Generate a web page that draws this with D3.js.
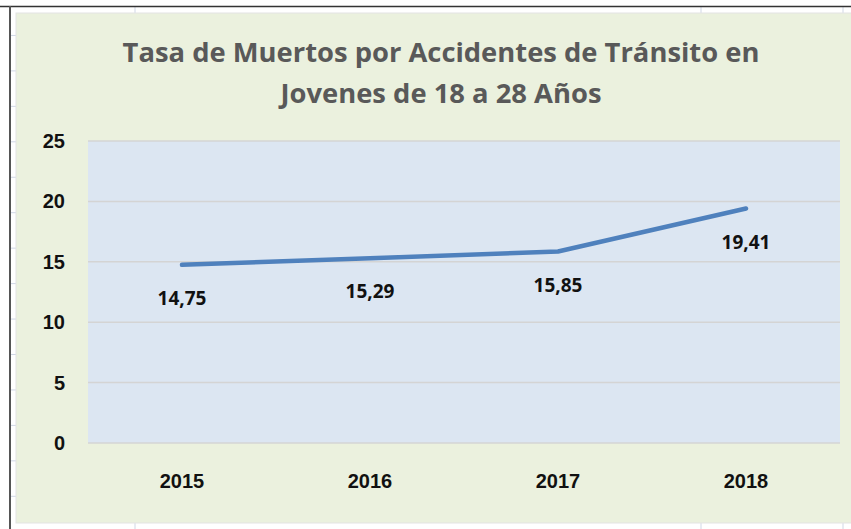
<!DOCTYPE html>
<html>
<head>
<meta charset="utf-8">
<style>
     body {
          margin: 0;
          background: #fff;
     }
     svg {
          display: block;
          font-family: "Open Sans", sans-serif;
     }
     .title {
          fill: #595959;
          font-weight: bold;
          text-anchor: middle;
     }
     .axis text {
          font-size: 20px;
          font-weight: bold;
          fill: #111;
     }
     .axis path, .axis line {
          display: none;
     }
     .grid line {
          stroke: #d4d4d4;
          stroke-width: 1.5;
     }
     .value-label {
          font-size: 19px;
          font-weight: bold;
          fill: #111;
          text-anchor: middle;
     }
</style>
</head>
<body>
<script src="https://cdn.jsdelivr.net/npm/d3@7"></script>
<script>

     var years = ["2015", "2016", "2017", "2018"];
     var rates = [14.75, 15.29, 15.85, 19.41];
     var yTicks = [0, 5, 10, 15, 20, 25];
     var titleLines = ["Tasa de Muertos por Accidentes de Tránsito en", "Jovenes de 18 a 28 Años"];

     var W = 851, H = 529;
     var plot = {left: 88, right: 840, top: 141, bottom: 443};

     var svg = d3.select("body").append("svg")
          .attr("width", W)
          .attr("height", H);

     // spreadsheet cells behind the chart
     var sheet = svg.append("g");
     sheet.selectAll("line.col")
          .data([135, 701, 843])
       .enter().append("line")
          .attr("x1", function(d) { return d; })
          .attr("x2", function(d) { return d; })
          .attr("y1", 6).attr("y2", H)
          .attr("stroke", "#d0d7e5");
     sheet.selectAll("line.row")
          .data(d3.range(1, 15))
       .enter().append("line")
          .attr("x1", 10).attr("x2", W)
          .attr("y1", function(d) { return d * 35.45; })
          .attr("y2", function(d) { return d * 35.45; })
          .attr("stroke", "#d0d7e5");
     sheet.append("line")
          .attr("x1", 0).attr("x2", W).attr("y1", 6.5).attr("y2", 6.5)
          .attr("stroke", "#333").attr("stroke-width", 1.5);
     sheet.append("line")
          .attr("x1", 10).attr("x2", 10).attr("y1", 6).attr("y2", H)
          .attr("stroke", "#555").attr("stroke-width", 2);

     // chart area
     svg.append("rect")
          .attr("x", 16).attr("y", 13)
          .attr("width", W).attr("height", 510)
          .attr("fill", "#ebf1de")
          .attr("stroke", "#e3e3e3");

     svg.append("rect")
          .attr("x", plot.left).attr("y", plot.top)
          .attr("width", plot.right - plot.left)
          .attr("height", plot.bottom - plot.top)
          .attr("fill", "#dce6f2");

     var x = d3.scaleBand()
          .domain(years)
          .range([plot.left, plot.right]);

     var y = d3.scaleLinear()
          .domain([0, 25])
          .range([plot.bottom, plot.top]);

     svg.append("g")
          .attr("class", "grid")
       .selectAll("line")
          .data(yTicks)
       .enter().append("line")
          .attr("x1", plot.left).attr("x2", plot.right)
          .attr("y1", function(d) { return y(d); })
          .attr("y2", function(d) { return y(d); });

     svg.append("g")
          .attr("class", "y axis")
          .attr("transform", "translate(" + plot.left + ",0)")
          .call(d3.axisLeft(y).tickValues(yTicks).tickSize(0).tickPadding(23));

     svg.append("g")
          .attr("class", "x axis")
          .attr("transform", "translate(0," + plot.bottom + ")")
          .call(d3.axisBottom(x).tickSize(0).tickPadding(31));

     // title, fitted to the width of the original
     var title = svg.append("g");
     var t1 = title.append("text")
          .attr("class", "title")
          .attr("x", 441).attr("y", 62)
          .style("font-size", "28px")
          .text(titleLines[0]);
     var fs = 28 * 637 / t1.node().getComputedTextLength();
     t1.style("font-size", fs + "px");
     title.append("text")
          .attr("class", "title")
          .attr("x", 441).attr("y", 103)
          .style("font-size", fs + "px")
          .text(titleLines[1]);

     var data = years.map(function(d, i) { return {year: d, value: rates[i]}; });

     var line = d3.line()
          .x(function(d) { return x(d.year) + x.bandwidth() / 2; })
          .y(function(d) { return y(d.value); });

     svg.append("path")
          .datum(data)
          .attr("d", line)
          .attr("fill", "none")
          .attr("stroke", "#4f81bd")
          .attr("stroke-width", 4.5)
          .attr("stroke-linecap", "round")
          .attr("stroke-linejoin", "round");

     svg.selectAll(".value-label")
          .data(data)
       .enter().append("text")
          .attr("class", "value-label")
          .attr("x", function(d) { return x(d.year) + x.bandwidth() / 2; })
          .attr("y", function(d) { return y(d.value) + 40; })
          .text(function(d) { return d3.format(".2f")(d.value).replace(".", ","); });

</script>
</body>
</html>
